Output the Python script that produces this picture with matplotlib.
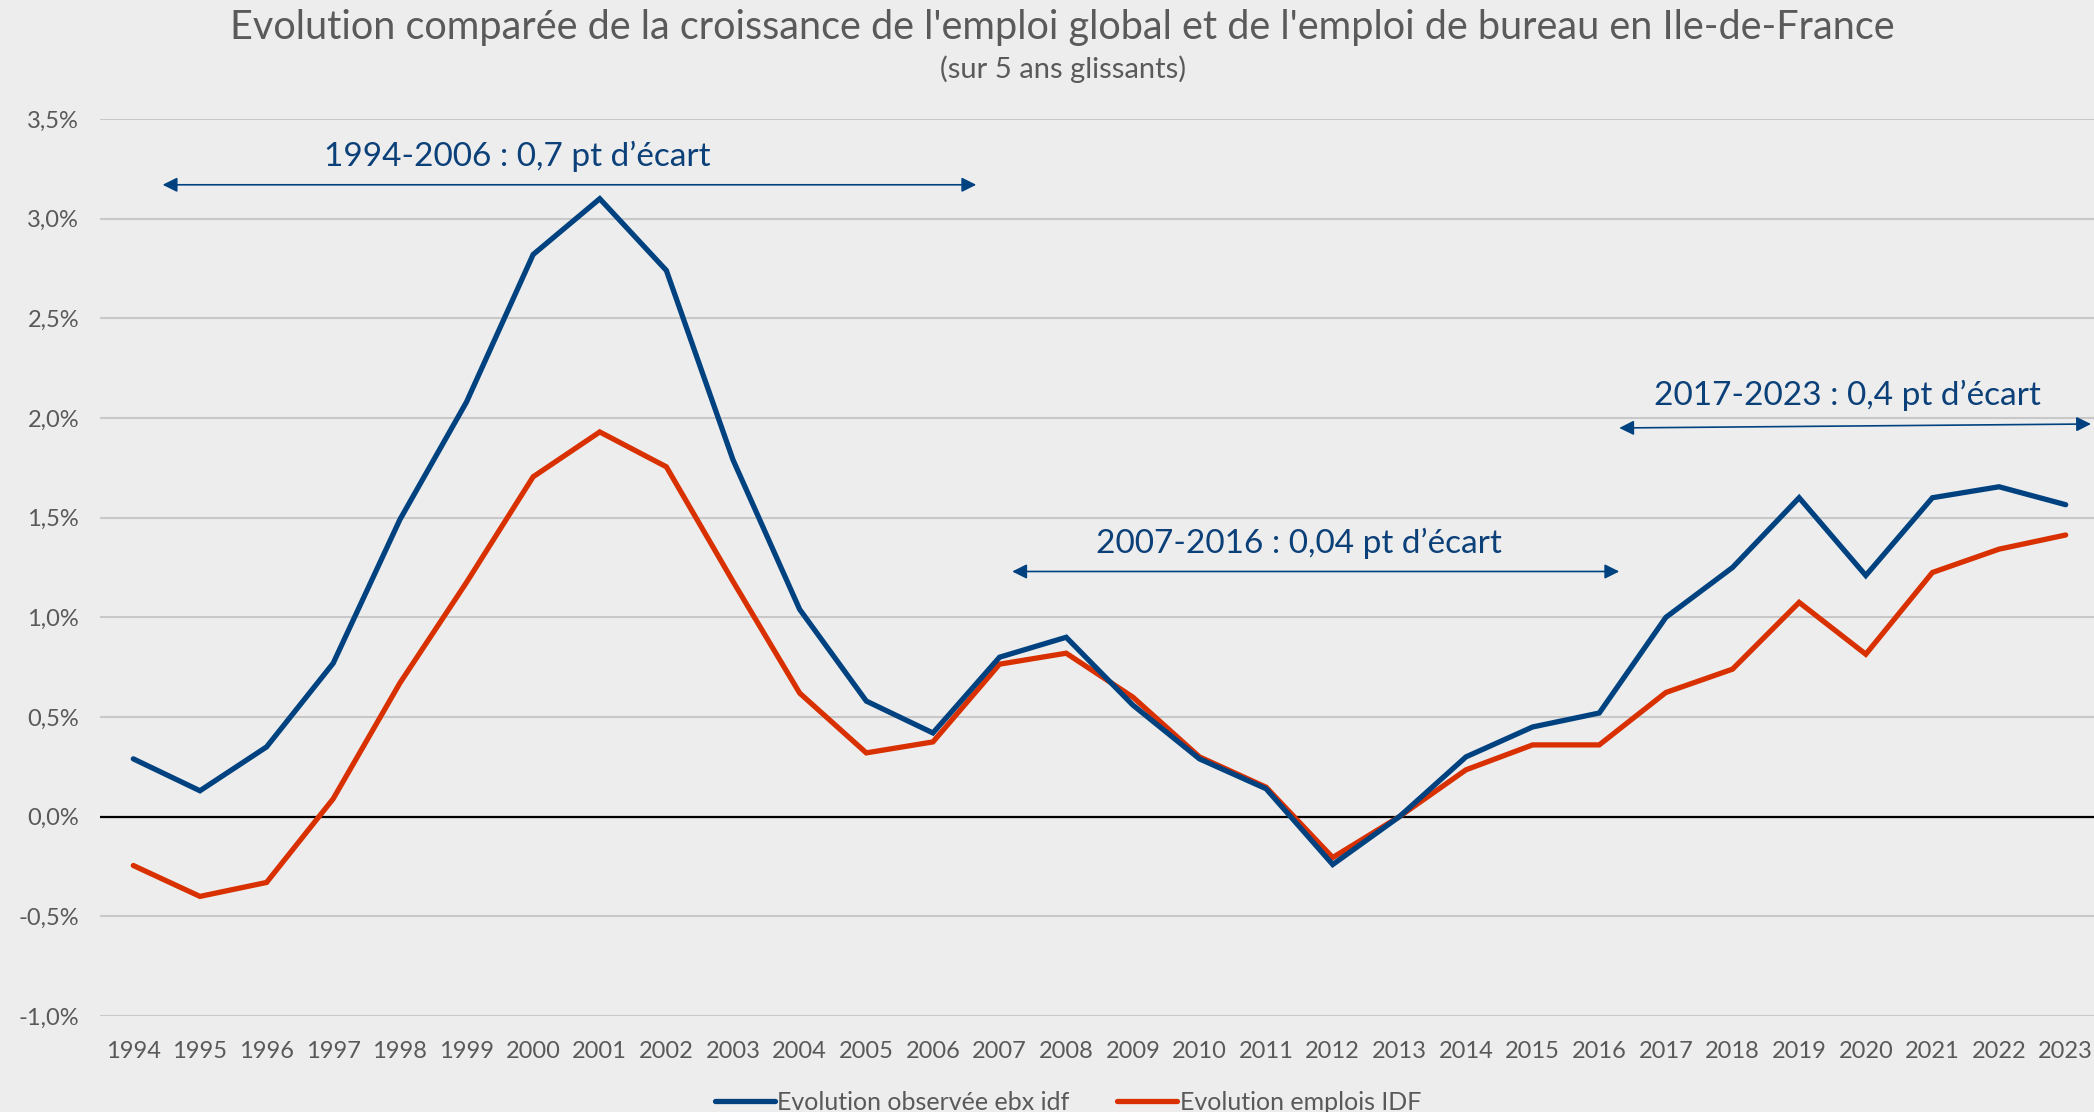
import numpy as np
import matplotlib.pyplot as plt

# Data (% growth, 5-year rolling)
years = [str(y) for y in range(1994, 2024)]

ebx_idf = [0.29, 0.13, 0.35, 0.77, 1.49, 2.08, 2.82, 3.10, 2.74, 1.79,
           1.04, 0.58, 0.42, 0.80, 0.90, 0.56, 0.29, 0.14, -0.24, 0.00,
           0.30, 0.45, 0.52, 1.00, 1.25, 1.60, 1.21, 1.60, 1.655, 1.565]

emplois_idf = [-0.245, -0.40, -0.33, 0.09, 0.67, 1.175, 1.705, 1.93, 1.755, 1.18,
               0.62, 0.32, 0.375, 0.765, 0.82, 0.60, 0.30, 0.148, -0.205, 0.00,
               0.235, 0.36, 0.36, 0.623, 0.74, 1.075, 0.815, 1.225, 1.342, 1.413]

y_ticks = [-1.0, -0.5, 0.0, 0.5, 1.0, 1.5, 2.0, 2.5, 3.0, 3.5]

# annotations: (label, x start, x end, y arrow left, y arrow right, x text, y text)
periods = [
    ("1994-2006 : 0,7 pt d\u2019écart", 0.44, 12.65, 3.17, 3.17, 5.77, 3.31),
    ("2007-2016 : 0,04 pt d\u2019écart", 13.19, 22.3, 1.23, 1.23, 17.5, 1.37),
    ("2017-2023 : 0,4 pt d\u2019écart", 22.3, 29.38, 1.95, 1.97, 25.73, 2.115),
]

blue = '#00427F'
red = '#D93000'
grey_txt = '#595959'
bg = '#EDEDED'

plt.rcParams['font.family'] = ['Lato', 'DejaVu Sans']

fig = plt.figure(figsize=(20.94, 11.12), dpi=100, facecolor=bg)
ax = fig.add_axes([100 / 2094, 1 - 1016 / 1112, 1999 / 2094, (1016 - 119) / 1112])
ax.set_facecolor(bg)

x = np.arange(len(years))
ax.plot(x, ebx_idf, color=blue, lw=3.8, solid_capstyle='round', solid_joinstyle='miter',
        label='Evolution observée ebx idf', zorder=4)
ax.plot(x, emplois_idf, color=red, lw=3.8, solid_capstyle='round', solid_joinstyle='miter',
        label='Evolution emplois IDF', zorder=3)

ax.set_xlim(-0.5, len(years) - 0.5)
ax.set_ylim(-1.0, 3.5)
ax.set_yticks(y_ticks)
ax.set_yticklabels([f"{v:.1f}%".replace('.', ',') for v in y_ticks])
ax.set_xticks(x)
ax.set_xticklabels(years)
ax.tick_params(axis='both', length=0, labelsize=17, colors=grey_txt)
ax.tick_params(axis='y', pad=15)
ax.tick_params(axis='x', pad=18)

for s in ax.spines.values():
    s.set_visible(False)
ax.grid(axis='y', color='#C8C8C8', lw=1.5, zorder=0)
ax.axhline(0, color='black', lw=1.6, zorder=2)

for label, x0, x1, y0, y1, tx, ty in periods:
    ax.annotate('', xy=(x1, y1), xytext=(x0, y0),
                arrowprops=dict(arrowstyle='<|-|>', color=blue, lw=1.2,
                                mutation_scale=22, shrinkA=0, shrinkB=0),
                zorder=5)
    ax.text(tx, ty, label, color='#0B4079', fontsize=24, ha='center', va='center',
            zorder=5)

fig.text(0.5075, 1 - 27 / 1112, "Evolution comparée de la croissance de l'emploi global "
         "et de l'emploi de bureau en Ile-de-France",
         ha='center', va='center', fontsize=28.5, color='#5A5A5A', fontweight='normal')
fig.text(0.5075, 1 - 69 / 1112, "(sur 5 ans glissants)", ha='center', va='center',
         fontsize=21, color='#5A5A5A', fontweight='normal')

fig.legend(loc='center', bbox_to_anchor=(1068 / 2094, 1 - 1102 / 1112), ncol=2,
           frameon=False, fontsize=18, labelcolor=grey_txt, handlelength=2.4,
           handletextpad=0.1, columnspacing=1.9)

fig.savefig('out.png', dpi=100, facecolor=bg)
